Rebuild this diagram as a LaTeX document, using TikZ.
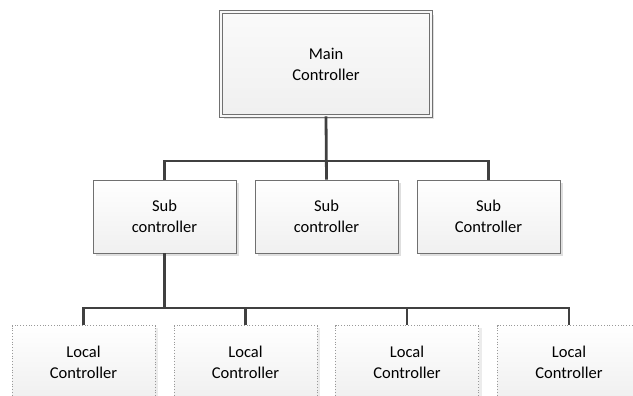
\documentclass[tikz,border=0pt]{standalone}
\usepackage{fontspec}
\setmainfont{Carlito}
\usetikzlibrary{shadows}

\definecolor{linkgray}{HTML}{404040}
\definecolor{framegray}{HTML}{707070}

\tikzset{
	box/.style={shape=rectangle, draw=framegray, line width=0.8pt, inner sep=0pt,
		top color=white, bottom color=gray!12, align=center,
		font=\fontsize{16.5}{21}\selectfont,
		minimum width=143pt, minimum height=73pt,
		drop shadow={shadow xshift=3pt, shadow yshift=-3pt, fill=gray!25, opacity=1}},
	mainbox/.style={box, double=gray!6, double distance=2.4pt,
		top color=gray!4, bottom color=gray!12,
		minimum width=210pt, minimum height=104pt},
	localbox/.style={box, dotted, draw=gray!80,
		drop shadow={shadow xshift=3pt, shadow yshift=-2pt, fill=gray!15, opacity=1}},
	link/.style={draw=linkgray, line width=2.8pt}
}

\begin{document}
\begin{tikzpicture}[x=1pt, y=-1pt]
	\clip (0, 0) rectangle (633, 396);

	\node[mainbox] (main) at (326, 64) {Main\\Controller};

	\node[box] (sub1) at (164.5, 216.5) {Sub\\controller};
	\node[box] (sub2) at (326.5, 216.5) {Sub\\controller};
	\node[box] (sub3) at (488.5, 216.5) {Sub\\Controller};

	\node[localbox] (loc1) at (83.5, 362)  {Local\\Controller};
	\node[localbox] (loc2) at (245.5, 362) {Local\\Controller};
	\node[localbox] (loc3) at (407, 362)   {Local\\Controller};
	\node[localbox] (loc4) at (569, 362)   {Local\\Controller};

	% upper bus
	\coordinate (busA) at (0, 161);
	\path[link] (sub1.north) |- (busA -| sub3.north) -- (sub3.north);
	\path[link] (main.south) -- (sub2.north);

	% lower bus
	\coordinate (busB) at (0, 308);
	\path[link] (loc1.north) |- (busB -| loc4.north) -- (loc4.north);
	\path[link] (sub1.south) -- (sub1.south |- busB);
	\path[link] (loc2.north) -- (loc2.north |- busB);
	\path[link] (loc3.north) -- (loc3.north |- busB);
\end{tikzpicture}
\end{document}
